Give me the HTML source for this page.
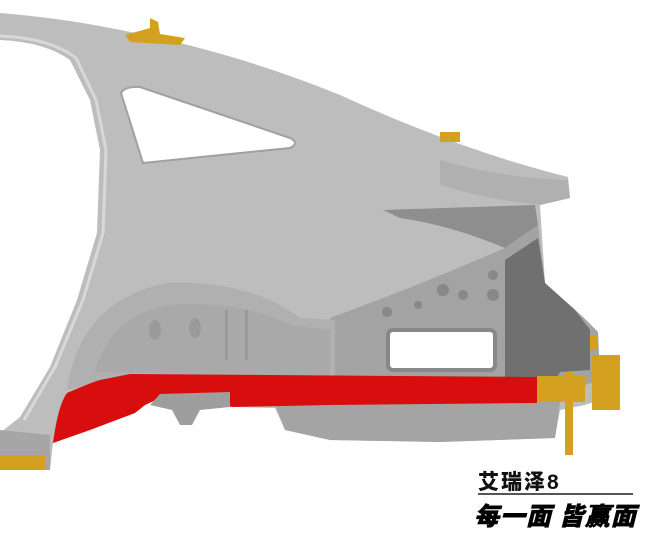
<!DOCTYPE html>
<html><head><meta charset="utf-8"><style>
html,body{margin:0;padding:0;background:#fff;width:670px;height:555px;overflow:hidden}
svg{position:absolute;left:0;top:0}
.t1{position:absolute;left:478px;top:466px;font:900 21px "Liberation Sans","Noto Sans CJK SC",sans-serif;color:#111;letter-spacing:2px}
.ln{position:absolute;left:478px;top:493px;width:155px;height:2px;background:#555}
.t2{position:absolute;left:474px;top:497px;font:900 25px "Noto Sans CJK SC",sans-serif;color:#000;font-style:italic;letter-spacing:1px;white-space:nowrap;-webkit-text-stroke:0.5px #000}
</style></head><body>
<svg width="670" height="555" viewBox="0 0 670 555">
<path d="M0,13 Q60,18 110,28 Q230,50 340,95 Q460,150 568,177 L570,198 L540,205 L545,283 L583,317 L598,332 L600,400 L585,405 L560,410 L555,438 L440,442 L330,440 L285,430 L275,408 L235,407 L160,398 L145,405 L135,413 L90,430 L53,443 L50,470 L0,470 Z" fill="#bdbdbd"/>
<path d="M440,160 Q500,178 568,180 L570,198 L540,205 Q490,200 440,185 Z" fill="#b0b0b0"/>
<path d="M0,40 Q45,42 70,60 L90,100 L100,150 L97,233 L77,300 L50,367 L20,417 L0,433 Z" fill="#fff"/>
<path d="M0,36 Q50,38 76,58 L96,100 L106,150 L103,233 L83,300 L55,367 L24,420" fill="none" stroke="#d8d8d8" stroke-width="3"/>
<path d="M121,93 Q125,86 140,87 L290,138 Q300,143 290,148 L250,152 L143,163 Z" fill="#fff" stroke="#a0a0a0" stroke-width="2"/>
<path d="M383,210 L535,205 L538,225 L505,248 Q450,225 400,218 Z" fill="#8e8e8e"/>
<path d="M330,318 Q420,285 505,248 L538,225 L545,283 L583,317 L598,332 L600,380 L540,400 L330,380 Z" fill="#a3a3a3"/>
<path d="M505,260 L538,238 L545,283 L575,310 L590,330 L590,370 L560,372 L545,400 L505,400 Z" fill="#707070"/>
<path d="M67,390 Q80,300 167,283 Q250,280 300,318 L335,320 L335,378 L130,374 Z" fill="#b0b0b0"/>
<path d="M95,372 Q110,315 170,305 Q240,300 290,325 L330,330 L330,376 Z" fill="#a9a9a9"/>
<g fill="#9a9a9a"><ellipse cx="155" cy="330" rx="6" ry="10"/><ellipse cx="195" cy="328" rx="6" ry="10"/><rect x="225" y="310" width="3" height="50"/><rect x="245" y="310" width="3" height="50"/></g>
<rect x="388" y="330" width="107" height="40" rx="5" fill="#fff" stroke="#888" stroke-width="4"/>
<g fill="#888"><circle cx="443" cy="290" r="6"/><circle cx="463" cy="295" r="5"/><circle cx="493" cy="295" r="6"/><circle cx="493" cy="275" r="5"/><circle cx="387" cy="312" r="5"/><circle cx="418" cy="305" r="4"/></g>
<path d="M275,404 L560,402 L555,438 L440,442 L330,440 L285,430 Z" fill="#a4a4a4"/>
<path d="M53,443 Q58,405 67,393 Q90,383 100,380 L130,374 L537,377 L537,403 L330,405 L233,407 L160,398 L145,405 L135,413 L90,430 Z" fill="#d80e0e"/>
<path d="M150,405 L160,394 L230,392 L230,407 L200,410 L192,425 L180,425 L172,410 Z" fill="#9e9e9e"/>
<path d="M0,430 L50,435 L50,470 L0,470 Z" fill="#a6a6a6"/>
<g fill="#d4a020">
<path d="M125,35 L150,28 L150,18 L158,22 L160,34 L185,38 L180,45 L130,42 Z"/>
<rect x="440" y="132" width="20" height="10"/>
<rect x="0" y="455" width="45" height="15"/>
<rect x="537" y="376" width="48" height="26"/>
<rect x="565" y="372" width="8" height="83"/>
<rect x="592" y="355" width="28" height="55"/>
<rect x="590" y="335" width="8" height="15"/>
</g>
</svg>
<div class="t1">艾瑞泽8</div>
<div class="ln"></div>
<div class="t2">每一面 皆赢面</div>
</body></html>
